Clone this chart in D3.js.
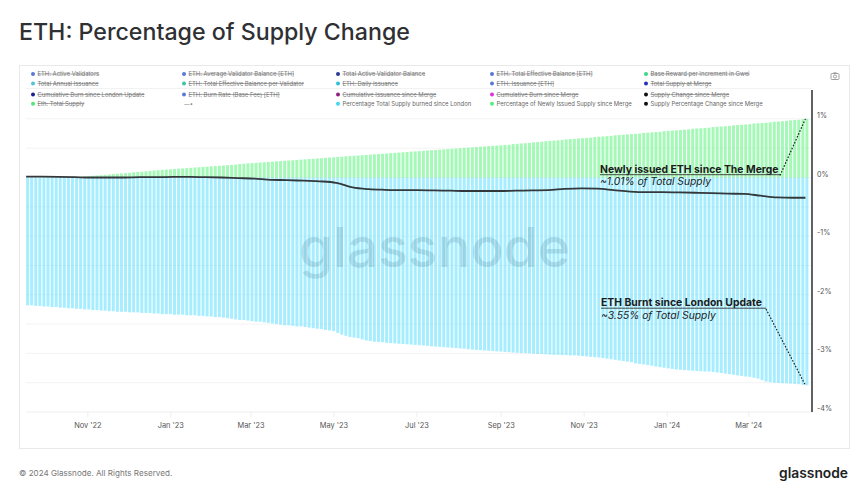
<!DOCTYPE html>
<html>
<head>
<meta charset="utf-8">
<script src="https://d3js.org/d3.v7.min.js"></script>
<style>
html, body { margin: 0; padding: 0; background: #fff; }
svg { display: block; }
text { font-family: Inter, "Noto Sans", sans-serif; }
</style>
</head>
<body>
<div id="chart"></div>
<script>

// one bar every 3 days, starting at the merge
var barStart = new Date(2022, 8, 17);
var barStepDays = 3;
var lineStepDays = 12;

// percent of total supply burned since London (stored positive)
var burned = [
	2.18,2.18,2.19,2.19,2.20,2.20,2.21,2.21,2.22,2.22,
	2.23,2.23,2.24,2.24,2.25,2.25,2.26,2.26,2.27,2.27,
	2.28,2.28,2.29,2.29,2.29,2.30,2.30,2.30,2.31,2.31,
	2.31,2.32,2.32,2.33,2.33,2.33,2.34,2.34,2.34,2.35,
	2.35,2.35,2.36,2.36,2.37,2.37,2.38,2.38,2.39,2.40,
	2.41,2.42,2.43,2.43,2.44,2.45,2.46,2.46,2.47,2.48,
	2.49,2.50,2.51,2.52,2.52,2.53,2.54,2.54,2.55,2.56,
	2.57,2.58,2.585,2.60,2.61,2.62,2.65,2.68,2.70,2.72,
	2.73,2.74,2.76,2.78,2.79,2.80,2.805,2.81,2.82,2.825,
	2.83,2.835,2.84,2.845,2.85,2.855,2.86,2.865,2.87,2.88,
	2.885,2.89,2.895,2.90,2.905,2.91,2.915,2.92,2.93,2.935,
	2.94,2.945,2.95,2.955,2.96,2.965,2.97,2.975,2.98,2.985,
	2.99,2.995,2.995,3.00,3.005,3.01,3.01,3.015,3.02,3.025,
	3.025,3.03,3.03,3.035,3.035,3.04,3.045,3.05,3.06,3.065,
	3.07,3.08,3.09,3.10,3.11,3.12,3.13,3.14,3.15,3.17,
	3.18,3.19,3.20,3.21,3.225,3.235,3.245,3.255,3.265,3.275,
	3.28,3.285,3.29,3.295,3.30,3.305,3.31,3.31,3.315,3.325,
	3.335,3.345,3.355,3.365,3.375,3.385,3.395,3.40,3.415,3.43,
	3.455,3.48,3.49,3.50,3.505,3.51,3.51,3.515,3.52,3.525,
	3.535,3.545
];

// percent of newly issued supply since the merge
var issued = [
	0,0,0,0,0,0,0,0,0,0,
	0,0,.005,.01,.015,.02,.03,.035,.04,.045,
	.05,.06,.065,.07,.075,.08,.09,.095,.10,.105,
	.11,.12,.125,.13,.135,.14,.145,.15,.155,.16,
	.165,.17,.175,.18,.185,.19,.195,.20,.205,.21,
	.215,.22,.23,.235,.24,.245,.25,.255,.26,.265,
	.27,.275,.28,.285,.29,.295,.30,.305,.31,.315,
	.32,.325,.33,.335,.34,.345,.35,.355,.36,.365,
	.37,.375,.38,.385,.39,.395,.40,.405,.41,.415,
	.42,.425,.43,.435,.44,.445,.45,.455,.46,.465,
	.47,.475,.48,.485,.49,.495,.50,.505,.51,.515,
	.52,.525,.53,.535,.54,.545,.55,.555,.56,.57,
	.575,.58,.585,.59,.60,.605,.61,.62,.625,.63,
	.635,.64,.65,.655,.66,.665,.67,.675,.68,.69,
	.695,.70,.705,.71,.72,.725,.73,.735,.74,.745,
	.75,.76,.765,.77,.775,.78,.79,.795,.80,.805,
	.81,.815,.82,.83,.835,.84,.845,.85,.86,.865,
	.87,.875,.88,.89,.895,.90,.905,.91,.92,.925,
	.93,.935,.94,.95,.955,.96,.965,.975,.98,.985,
	.995,1.0
];

// supply percentage change since merge, every 12 days
var supplyChange = [
	.015,.014,.01,.005,0,0,0,.005,.005,.01,
	.01,.005,0,-.01,-.02,-.04,-.045,-.055,-.065,-.09,
	-.17,-.20,-.21,-.215,-.215,-.22,-.225,-.23,-.23,-.23,
	-.225,-.22,-.215,-.195,-.185,-.19,-.215,-.24,-.25,-.25,
	-.255,-.26,-.265,-.275,-.28,-.31,-.34,-.345,-.345
];

var xTickDates = [
	new Date(2022, 10, 1), new Date(2023, 0, 1), new Date(2023, 2, 1), new Date(2023, 4, 1), new Date(2023, 6, 1),
	new Date(2023, 8, 1), new Date(2023, 10, 1), new Date(2024, 0, 1), new Date(2024, 2, 1)
];
var yTicks = [1, 0, -1, -2, -3, -4];
var yGrid = [1, .5, 0, -.5, -1, -1.5, -2, -2.5, -3, -3.5];

var legendNames = [
	["ETH: Active Validators", "ETH: Average Validator Balance [ETH]", "Total Active Validator Balance", "ETH: Total Effective Balance [ETH]", "Base Reward per Increment in Gwei"],
	["Total Annual Issuance", "ETH: Total Effective Balance per Validator", "ETH: Daily Issuance", "ETH: Issuance [ETH]", "Total Supply at Merge"],
	["Cumulative Burn since London Update", "ETH: Burn Rate (Base Fee) [ETH]", "Cumulative Issuance since Merge", "Cumulative Burn since Merge", "Supply Change since Merge"],
	["Eth: Total Supply", "", "Percentage Total Supply burned since London", "Percentage of Newly Issued Supply since Merge", "Supply Percentage Change since Merge"]
];
var legendColors = [
	["#5b78d8", "#5b78d8", "#2a3a9a", "#5b78d8", "#3ad68a"],
	["#4fc4d8", "#3cc4a8", "#30c0d8", "#5b78d8", "#2030c0"],
	["#1a2090", "#5b78d8", "#902080", "#e030e0", "#111111"],
	["#50e878", "#888888", "#3fd8f0", "#50f080", "#111111"]
];
// the last row only has three series switched on
var legendActive = ["Percentage Total Supply burned since London", "Percentage of Newly Issued Supply since Merge", "Supply Percentage Change since Merge"];

var width = 865, height = 498;
var svg = d3.select("#chart").append("svg").attr("width", width).attr("height", height);

// x is pinned to the Nov '22 and Mar '24 ticks, y to the 0% and -4% grid lines
var x = d3.scaleTime().domain([new Date(2022, 10, 1), new Date(2024, 2, 1)]).range([87.3, 748.3]);
var y = d3.scaleLinear().domain([0, -4]).range([177.5, 412]);

svg.append("text").attr("x", 19).attr("y", 40)
	.attr("font-size", 23.2).attr("font-weight", 500).attr("fill", "#2f3033")
	.text("ETH: Percentage of Supply Change");

// frame
svg.append("rect").attr("x", 19.5).attr("y", 65.5).attr("width", 830).attr("height", 383)
	.attr("fill", "none").attr("stroke", "#e9e9e9");
svg.append("line").attr("x1", 26).attr("x2", 812).attr("y1", 88.5).attr("y2", 88.5).attr("stroke", "#f2f2f2");

// legend
var legendX = [33, 184, 338, 492, 646];
var legendY = [74, 83.5, 94.5, 103.7];
legendNames.forEach(function(row, r) {
	row.forEach(function(name, c) {
		var active = legendActive.indexOf(name) >= 0;
		if (name == "") {
			svg.append("text").attr("x", legendX[c]).attr("y", legendY[r] + 2)
				.attr("font-size", 5.7).attr("fill", "#888").text("—•");
			return;
		}
		svg.append("circle").attr("cx", legendX[c]).attr("cy", legendY[r]).attr("r", 2)
			.attr("fill", legendColors[r][c]);
		svg.append("text").attr("x", legendX[c] + 4.5).attr("y", legendY[r] + 2)
			.attr("font-size", 5.9).attr("fill", active ? "#666" : "#777")
			.attr("text-decoration", active ? null : "line-through")
			.text(name);
	});
});

// camera icon
var camera = svg.append("g").attr("fill", "none").attr("stroke", "#888").attr("stroke-width", .8);
camera.append("rect").attr("x", 831).attr("y", 73.5).attr("width", 8).attr("height", 6).attr("rx", 1);
camera.append("circle").attr("cx", 835).attr("cy", 76.5).attr("r", 1.6);
camera.append("line").attr("x1", 833.5).attr("x2", 836.5).attr("y1", 72.8).attr("y2", 72.8);

// grid
svg.append("g").selectAll("line").data(yGrid).enter().append("line")
	.attr("x1", 26).attr("x2", 812)
	.attr("y1", function(d) { return y(d); })
	.attr("y2", function(d) { return y(d); })
	.attr("stroke", "#f3f3f3");

// bars
function barDate(i) { return d3.timeDay.offset(barStart, i * barStepDays); }
var barW = 3;

svg.append("g").selectAll("rect").data(burned).enter().append("rect")
	.attr("x", function(d, i) { return x(barDate(i)); })
	.attr("y", y(0))
	.attr("width", barW)
	.attr("height", function(d) { return y(-d) - y(0); })
	.attr("fill", "#5fdfff").attr("fill-opacity", .56);

svg.append("g").selectAll("rect").data(issued).enter().append("rect")
	.attr("x", function(d, i) { return x(barDate(i)); })
	.attr("y", function(d) { return y(d); })
	.attr("width", barW)
	.attr("height", function(d) { return y(0) - y(d); })
	.attr("fill", "#5cf57f").attr("fill-opacity", .56);

// watermark
svg.append("text").attr("x", 434.5).attr("y", 267).attr("text-anchor", "middle")
	.attr("font-size", 55).attr("font-weight", 500).attr("fill", "#4f8a9f").attr("fill-opacity", .24)
	.text("glassnode");

// supply change line
var lastBar = barDate(burned.length - 1);
var line = d3.line()
	.x(function(d, i) {
		var t = d3.timeDay.offset(barStart, i * lineStepDays);
		return x(t > lastBar ? lastBar : t);
	})
	.y(function(d) { return y(d); })
	.curve(d3.curveMonotoneX);
svg.append("path").datum(supplyChange).attr("d", line)
	.attr("fill", "none").attr("stroke", "#33383b").attr("stroke-width", 1.8);

// x axis
var xAxis = d3.axisBottom(x).tickValues(xTickDates).tickSize(5).tickPadding(5.5)
	.tickFormat(d3.timeFormat("%b '%y"));
var gx = svg.append("g").attr("transform", "translate(0,412)").call(xAxis);
gx.select(".domain").remove();
gx.selectAll("line").attr("stroke", "#eeeeee");
gx.selectAll("text").attr("font-size", 7.4).attr("fill", "#555").style("font-family", "Inter");
svg.append("line").attr("x1", 26).attr("x2", 812).attr("y1", 412).attr("y2", 412).attr("stroke", "#eeeeee");

// y axis, labels sit a little above their grid line
var yAxis = d3.axisRight(y).tickValues(yTicks).tickSize(0).tickPadding(5)
	.tickFormat(function(d) { return (d < 0 ? "-" : "") + Math.abs(d) + "%"; });
var gy = svg.append("g").attr("transform", "translate(812,0)").call(yAxis);
gy.select(".domain").remove();
gy.selectAll("text").attr("font-size", 7.2).attr("fill", "#555").attr("dy", "-0.2em").style("font-family", "Inter");
svg.append("line").attr("x1", 812).attr("x2", 812).attr("y1", 90).attr("y2", 412)
	.attr("stroke", "#3a3a3a").attr("stroke-width", 1.6);

// annotations
function annotate(tx, ty, underlineEnd, head, sub, endDate, endValue) {
	svg.append("text").attr("x", tx).attr("y", ty).attr("font-size", 10.4).attr("font-weight", 700)
		.attr("fill", "#1c1c1c").text(head);
	svg.append("line").attr("x1", tx).attr("x2", underlineEnd).attr("y1", ty + 2.2).attr("y2", ty + 2.2)
		.attr("stroke", "#333").attr("stroke-width", .9);
	svg.append("text").attr("x", tx).attr("y", ty + 12.5).attr("font-size", 10.3).attr("font-style", "italic")
		.attr("fill", "#222").text(sub);
	svg.append("line").attr("x1", underlineEnd).attr("y1", ty + 3)
		.attr("x2", x(endDate)).attr("y2", y(endValue))
		.attr("stroke", "#222").attr("stroke-width", 1.2).attr("stroke-dasharray", "1.6 1.6");
}
annotate(600, 172.5, 780, "Newly issued ETH since The Merge", "~1.01% of Total Supply", lastBar, issued[issued.length - 1]);
annotate(601, 306, 766, "ETH Burnt since London Update", "~3.55% of Total Supply", lastBar, -burned[burned.length - 1]);

// footer
svg.append("text").attr("x", 19).attr("y", 476).attr("font-size", 8.1).attr("fill", "#777")
	.text("© 2024 Glassnode. All Rights Reserved.");
svg.append("text").attr("x", 848).attr("y", 478).attr("text-anchor", "end")
	.attr("font-size", 13.8).attr("font-weight", 600).attr("fill", "#222").text("glassnode");

</script>
</body>
</html>
